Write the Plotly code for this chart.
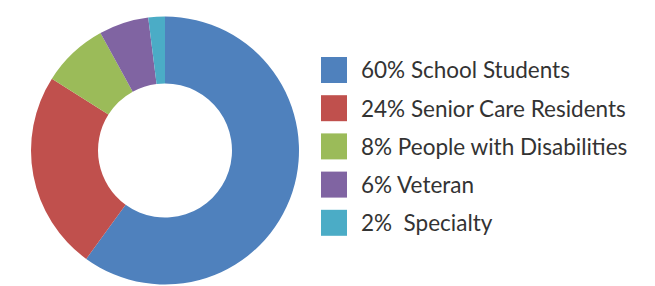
import plotly.graph_objects as go

W, H = 655, 286
OFF = 8  # page body margin
FW, FH = W - OFF, H - OFF

categories = ["School Students", "Senior Care Residents", "People with Disabilities", "Veteran", "Specialty"]
values = [60, 24, 8, 6, 2]
legend_labels = ["60% School Students", "24% Senior Care Residents", "8% People with Disabilities",
                 "6% Veteran", "2%  Specialty"]
colors = ["#4F81BD", "#C0504D", "#9BBB59", "#8064A2", "#4BACC6"]


def px(x):
    return (x - OFF) / FW


def py(y):
    return 1 - (y - OFF) / FH


fig = go.Figure(go.Pie(
    labels=categories, values=values, hole=0.5, sort=False,
    direction="clockwise", rotation=0,
    marker=dict(colors=colors, line=dict(width=0)),
    textinfo="none", hoverinfo="label+percent",
    domain=dict(x=[px(31), px(299)], y=[py(285), py(16)]),
    showlegend=False,
))

shapes = []
annotations = []
y0, step, sq = 70, 38.2, 26
for i, (lab, c) in enumerate(zip(legend_labels, colors)):
    yc = y0 + i * step
    shapes.append(dict(type="rect", xref="paper", yref="paper",
                       x0=px(321), x1=px(321 + sq),
                       y0=py(yc + sq / 2), y1=py(yc - sq / 2),
                       fillcolor=c, line=dict(width=0)))
    annotations.append(dict(text=lab, xref="paper", yref="paper",
                            x=px(359), y=py(yc), xanchor="left", yanchor="middle",
                            showarrow=False,
                            font=dict(family="Lato", size=22.5, color="#333333")))

fig.update_layout(width=FW, height=FH, margin=dict(l=0, r=0, t=0, b=0),
                  paper_bgcolor="white", plot_bgcolor="white",
                  shapes=shapes, annotations=annotations)
fig.write_html("out.html")
